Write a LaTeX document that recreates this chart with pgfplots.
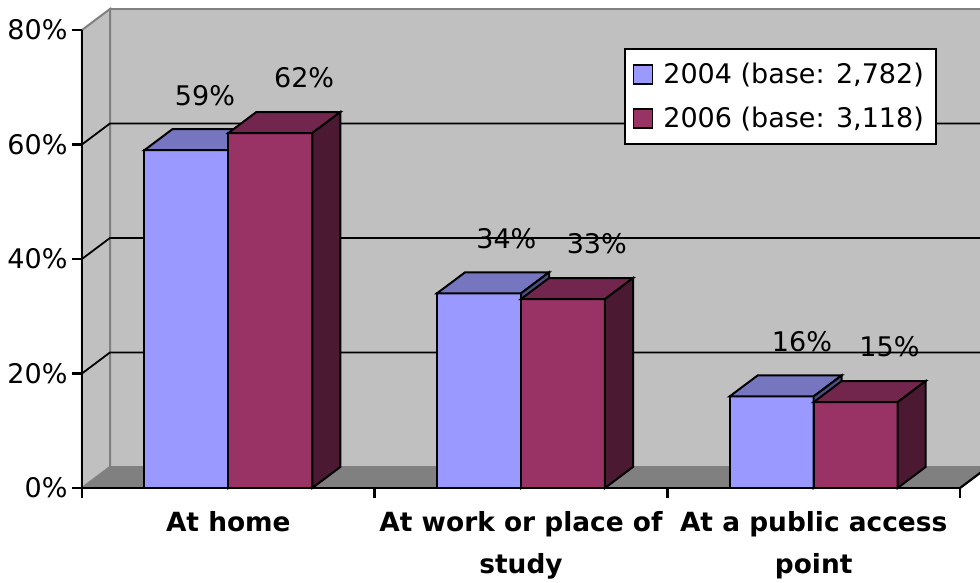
\documentclass[border=0pt]{standalone}
\usepackage{pgfplots}
\pgfplotsset{compat=1.18}
\usepackage{pgfplotstable}
\usepackage{fontspec}
\setmainfont{DejaVu Sans}

\definecolor{frontA}{HTML}{9999FF}
\definecolor{topA}{HTML}{7575C0}
\definecolor{sideA}{HTML}{4D4D80}
\definecolor{frontB}{HTML}{993366}
\definecolor{topB}{HTML}{73264D}
\definecolor{sideB}{HTML}{4C1933}
\definecolor{wallc}{HTML}{C0C0C0}
\definecolor{floorc}{HTML}{808080}

\newcommand\chartfont{\fontsize{13.5bp}{16bp}\selectfont}
\newcommand\catfont{\fontsize{13.2bp}{21bp}\selectfont\bfseries}

% share of users by place of access (lx = label nudge)
\pgfplotstableread{
cat y2004 y2006 lx04 lx06
0 59 62 -0.03 0
1 34 33 0 0
2 16 15 0.01 0
}\datatable

\pgfplotsset{sqlegend/.style={legend image code/.code={%
  \draw[##1,line width=0.8bp] (0bp,-4.75bp) rectangle (9.5bp,4.75bp);}}}

% one 3D column: left x, value, front, top, side colour
\newcommand\drawbar[5]{%
  \pgfmathsetmacro\xa{#1}%
  \pgfmathsetmacro\xb{#1+0.287}%
  \pgfmathsetmacro\xc{#1+0.0957}%
  \pgfmathsetmacro\xd{#1+0.287+0.0957}%
  \pgfmathsetmacro\yv{#2}%
  \pgfmathsetmacro\yt{#2+3.67}%
  \addplot[forget plot, fill=#3, draw=black, line width=1bp] coordinates {(\xa,0) (\xb,0) (\xb,\yv) (\xa,\yv)} -- cycle;
  \addplot[forget plot, fill=#4, draw=black, line width=1bp] coordinates {(\xa,\yv) (\xb,\yv) (\xd,\yt) (\xc,\yt)} -- cycle;
  \addplot[forget plot, fill=#5, draw=black, line width=1bp] coordinates {(\xb,0) (\xd,3.67) (\xd,\yt) (\xb,\yv)} -- cycle;
}

\begin{document}
\begin{tikzpicture}
\useasboundingbox (-41bp,-47.5bp) rectangle (449bp,244bp);
\begin{axis}[
  at={(0,0)}, anchor=south west,
  scale only axis, width=439bp, height=229bp,
  xmin=0, xmax=3, ymin=0, ymax=80,
  clip=false, axis on top,
  axis lines*=left,
  axis line style={black, line width=1.2bp},
  tick align=outside, major tick length=4.75bp,
  tick style={black, line width=1.2bp},
  xtick={0,1,2,3}, xticklabels={},
  extra x ticks={0.5,1.5,2.5},
  extra x tick labels={{At home},{At work or place of\\study},{At a public access\\point}},
  extra x tick style={major tick length=0pt,
    xticklabel style={align=center, font=\catfont, yshift=-8bp}},
  ytick={0,20,40,60,80},
  yticklabel={\pgfmathprintnumber{\tick}\%},
  yticklabel style={font=\chartfont, xshift=1bp},
  /pgf/number format/assume math mode=true,
  legend style={at={(0.6173,0.7489)}, anchor=south west, draw=black,
    line width=0.8bp, fill=white, font=\chartfont,
    inner ysep=5bp, inner xsep=4bp, row sep=6.2bp,
    /tikz/every odd column/.append style={column sep=3bp}},
  legend cell align=left,
]
% walls and floor
\addplot[forget plot, fill=wallc, draw=floorc, line width=1bp] coordinates {(0.0957,3.67) (3.0957,3.67) (3.0957,83.67) (0.0957,83.67)} -- cycle;
\addplot[forget plot, fill=wallc, draw=floorc, line width=1bp] coordinates {(0,0) (0.0957,3.67) (0.0957,83.67) (0,80)} -- cycle;
\addplot[forget plot, fill=floorc, draw=floorc, line width=0.6bp] coordinates {(0,0) (3,0) (3.0957,3.67) (0.0957,3.67)} -- cycle;
\addplot[forget plot, black, line width=1.1bp] coordinates {(3,0) (3.0957,3.67)};
% grid lines
\addplot[forget plot, black, line width=0.9bp] coordinates {(0,20) (0.0957,23.67) (3.0957,23.67)};
\addplot[forget plot, black, line width=0.9bp] coordinates {(0,40) (0.0957,43.67) (3.0957,43.67)};
\addplot[forget plot, black, line width=0.9bp] coordinates {(0,60) (0.0957,63.67) (3.0957,63.67)};
% columns
\pgfplotsinvokeforeach{0,1,2}{
  \pgfplotstablegetelem{#1}{y2004}\of\datatable \let\va\pgfplotsretval
  \pgfplotstablegetelem{#1}{y2006}\of\datatable \let\vb\pgfplotsretval
  \drawbar{#1+0.5-0.287}{\va}{frontA}{topA}{sideA}
  \drawbar{#1+0.5}{\vb}{frontB}{topB}{sideB}
}
% value labels
\addplot[forget plot, draw=none, mark=none, point meta=explicit,
  nodes near coords={\pgfmathprintnumber{\pgfplotspointmeta}\%},
  nodes near coords style={anchor=center, font=\chartfont}]
  table[x expr=\thisrow{cat}+0.45+\thisrow{lx04}, y expr=\thisrow{y2004}+9.6, meta=y2004] {\datatable};
\addplot[forget plot, draw=none, mark=none, point meta=explicit,
  nodes near coords={\pgfmathprintnumber{\pgfplotspointmeta}\%},
  nodes near coords style={anchor=center, font=\chartfont}]
  table[x expr=\thisrow{cat}+0.759+\thisrow{lx06}, y expr=\thisrow{y2006}+9.6, meta=y2006] {\datatable};
% legend
\addlegendimage{sqlegend, fill=frontA, draw=black}
\addlegendentry{2004 (base: 2,782)}
\addlegendimage{sqlegend, fill=frontB, draw=black}
\addlegendentry{2006 (base: 3,118)}
\end{axis}
\end{tikzpicture}
\end{document}
